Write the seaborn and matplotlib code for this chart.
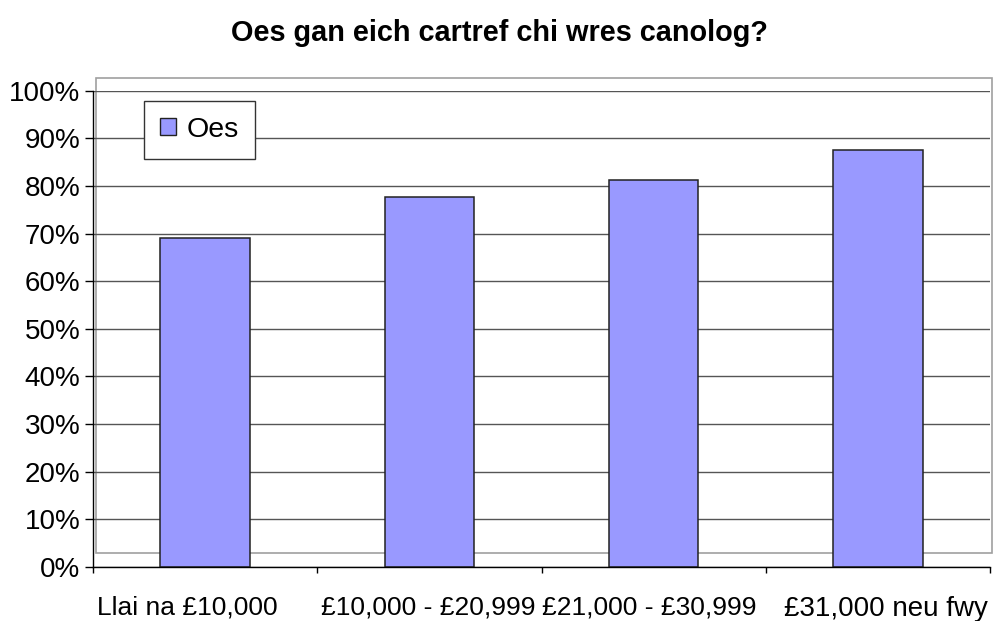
import numpy as np
import pandas as pd
import matplotlib
matplotlib.use("Agg")
import matplotlib.pyplot as plt
import matplotlib.transforms as mtransforms
from matplotlib.patches import Rectangle, Patch
from matplotlib.ticker import PercentFormatter
import seaborn as sns

# data
categories = ["Llai na £10,000", "£10,000 - £20,999", "£21,000 - £30,999", "£31,000 neu fwy"]
oes = [0.69, 0.777, 0.812, 0.875]
series_name = "Oes"
title = "Oes gan eich cartref chi wres canolog?"

df = pd.DataFrame({"band": categories, "share": oes})

sns.set_style("white")
plt.rcParams["font.family"] = ["Liberation Sans", "DejaVu Sans"]
plt.rcParams["text.color"] = "black"
plt.rcParams["xtick.color"] = "black"
plt.rcParams["ytick.color"] = "black"
plt.rcParams["axes.labelcolor"] = "black"

W, H = 999, 621
fig = plt.figure(figsize=(W / 100, H / 100), dpi=100)
ax = fig.add_axes([93 / W, 1 - 566.7 / H, (990 - 93) / W, (566.7 - 90.7) / H])

bar_color = "#9999FF"
sns.barplot(data=df, x="band", y="share", color=bar_color, edgecolor="#222222",
            linewidth=1.1, width=0.4, saturation=1, ax=ax, zorder=3)

# excel style plot area border (grey box behind everything)
ax.add_patch(Rectangle((96 / W, 1 - 552.7 / H), (991.7 - 96) / W, (552.7 - 77.5) / H,
                       transform=fig.transFigure, fill=False, edgecolor="#a0a0a0",
                       linewidth=1.2, clip_on=False, zorder=0.5))

ax.set_ylim(0, 1)
ax.set_xlim(-0.5, 3.5)
ax.set_yticks(np.arange(0, 1.01, 0.1))
ax.yaxis.set_major_formatter(PercentFormatter(1.0, decimals=0))
ax.grid(axis="y", color="#555555", linewidth=1.0, zorder=1)
ax.set_axisbelow(True)

for s in ["top", "right"]:
    ax.spines[s].set_visible(False)
for s in ["left", "bottom"]:
    ax.spines[s].set_color("black")
    ax.spines[s].set_linewidth(1.0)
    ax.spines[s].set_zorder(4)

ax.set_xlabel("")
ax.set_ylabel("")
ax.tick_params(axis="y", direction="out", length=6, width=1, color="black",
               labelsize=20, pad=3, left=True, labelcolor="black")
ax.set_xticks(np.arange(len(categories)))
ax.set_xticklabels(categories)
ax.tick_params(axis="x", which="major", length=0, labelsize=19, pad=21, labelcolor="black")
ax.set_xticks(np.arange(-0.5, len(categories), 1), minor=True)
ax.tick_params(axis="x", which="minor", direction="out", length=4, width=1,
               color="black", bottom=True)

# excel nudges the outer labels a little
labels = ax.xaxis.get_ticklabels()
labels[-1].set_fontsize(20)
shifts = [-18, -1, -4, 8]
for lab, dx in zip(labels, shifts):
    lab.set_transform(lab.get_transform() +
                      mtransforms.ScaledTranslation(dx / 100, 0, fig.dpi_scale_trans))

handle = Patch(facecolor=bar_color, edgecolor="#222222", linewidth=1.0)
leg = ax.legend([handle], [series_name], loc="upper left",
                bbox_to_anchor=((144 - 93) / 897, (566.7 - 100.7) / 476),
                borderaxespad=0, fontsize=20.5, handlelength=0.58, handleheight=0.58,
                handletextpad=0.35, borderpad=0.56, fancybox=False, shadow=False,
                framealpha=1, edgecolor="#333333")
leg.get_frame().set_linewidth(1.0)
leg.set_zorder(5)

fig.text(0.5, 1 - 33 / H, title, ha="center", va="center", fontsize=20.8,
         fontweight="bold")

fig.savefig("out.png", dpi=100)
